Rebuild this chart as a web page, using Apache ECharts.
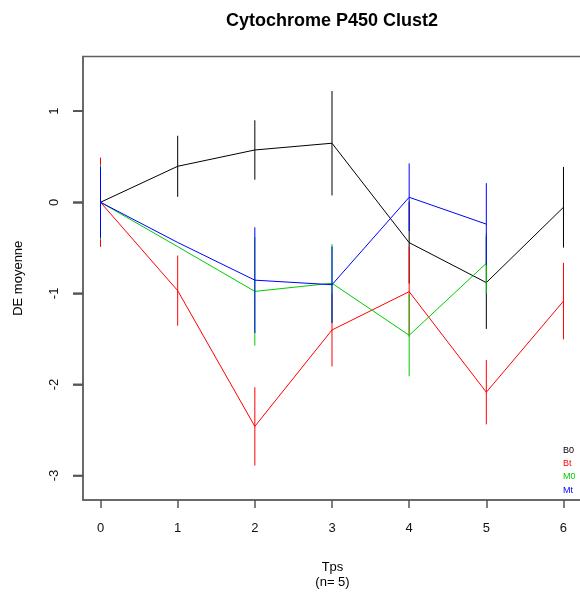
<!DOCTYPE html>
<html>
<head>
<meta charset="utf-8">
<title>Cytochrome P450 Clust2</title>
<script src="https://cdn.jsdelivr.net/npm/echarts@6/dist/echarts.min.js"></script>
<style>
  html, body { margin: 0; padding: 0; background: #fff; }
  #chart { width: 580px; height: 592px; }
</style>
</head>
<body>
<div id="chart"></div>
<script>
// Time points (x axis)
const tps = [0, 1, 2, 3, 4, 5, 6];
const xTicks = [0, 1, 2, 3, 4, 5, 6];
const yTicks = [-3, -2, -1, 0, 1];

// Mean DE per group and time point, with the half-length of each error bar
const seriesNames = ['B0', 'Bt', 'M0', 'Mt'];
const b0Mean = [0, 0.395, 0.574, 0.648, -0.443, -0.882, -0.055];
const b0Err  = [0.30, 0.335, 0.326, 0.573, 0.45, 0.508, 0.443];
const btMean = [0, -0.97, -2.46, -1.402, -0.981, -2.085, -1.085];
const btErr  = [0.49, 0.385, 0.43, 0.40, 0.494, 0.353, 0.42];
const m0Mean = [0, -0.487, -0.978, -0.889, -1.46, -0.67, null];
const m0Err  = [0.41, 0, 0.595, 0.43, 0.45, 0.33, null];
const mtMean = [0, -0.441, -0.855, -0.905, 0.055, -0.24, null];
const mtErr  = [0.39, 0, 0.58, 0.42, 0.372, 0.45, null];

const colors = ['#000000', '#ff0000', '#00cd00', '#0000ff'];
const means = [b0Mean, btMean, m0Mean, mtMean];
const errs = [b0Err, btErr, m0Err, mtErr];

const X_MIN = -0.227, X_MAX = 6.24;
const Y_MIN = -3.268, Y_MAX = 1.6;
const FONT = 'Liberation Sans, Arial, sans-serif';

const chart = echarts.init(document.getElementById('chart'), null, { renderer: 'canvas' });

const series = [];
seriesNames.forEach(function (name, i) {
  const lineData = [];
  const barData = [];
  tps.forEach(function (t, j) {
    if (means[i][j] === null) return;
    lineData.push([t, means[i][j]]);
    if (errs[i][j]) barData.push([t, means[i][j], errs[i][j]]);
  });
  series.push({
    name: name,
    type: 'line',
    data: lineData,
    showSymbol: false,
    symbol: 'none',
    lineStyle: { color: colors[i], width: 1 },
    itemStyle: { color: colors[i] },
    animation: false,
    silent: true,
    z: 10 + i * 2
  });
  series.push({
    name: name,
    type: 'custom',
    data: barData,
    animation: false,
    silent: true,
    z: 11 + i * 2,
    renderItem: function (params, api) {
      const x = api.value(0), y = api.value(1), e = api.value(2);
      const top = api.coord([x, y + e]);
      const bot = api.coord([x, y - e]);
      return {
        type: 'line',
        shape: { x1: top[0], y1: top[1], x2: bot[0], y2: bot[1] },
        style: { stroke: colors[i], lineWidth: 1 }
      };
    }
  });
});

// Outward tick marks on the left side of the frame, one per y tick value
series.push({
  type: 'custom',
  data: yTicks.map(function (v) { return [X_MIN, v]; }),
  animation: false,
  silent: true,
  clip: false,
  zlevel: 1,
  z: 5,
  renderItem: function (params, api) {
    const p = api.coord([api.value(0), api.value(1)]);
    return {
      type: 'line',
      shape: { x1: p[0] - 10, y1: p[1], x2: p[0], y2: p[1] },
      style: { stroke: '#555', lineWidth: 1.5 }
    };
  }
});

const option = {
  backgroundColor: '#ffffff',
  animation: false,
  graphic: [{
    type: 'text',
    x: 332,
    y: 21,
    style: {
      text: 'Cytochrome P450 Clust2',
      font: 'bold 18px ' + FONT,
      fill: '#000',
      align: 'center',
      verticalAlign: 'middle'
    }
  }],
  legend: {
    orient: 'vertical',
    left: 553,
    top: 441,
    padding: 5,
    itemWidth: 0,
    itemHeight: 0,
    itemGap: 4.2,
    icon: 'none',
    selectedMode: false,
    textStyle: { fontSize: 9, fontFamily: FONT },
    data: seriesNames.map(function (n, i) {
      return { name: n, icon: 'none', textStyle: { color: colors[i] } };
    })
  },
  grid: {
    left: 83,
    top: 56.5,
    width: 499,
    height: 443.5,
    show: true,
    borderColor: '#606060',
    borderWidth: 1.5,
    outerBoundsMode: 'none'
  },
  xAxis: {
    type: 'value',
    min: X_MIN,
    max: X_MAX,
    name: 'Tps\n(n= 5)',
    nameLocation: 'middle',
    nameGap: 60,
    nameTextStyle: { fontSize: 13, fontFamily: FONT, color: '#000', lineHeight: 15 },
    splitLine: { show: false },
    axisLine: { show: true, onZero: false, lineStyle: { color: '#606060', width: 1.5 } },
    axisTick: {
      show: true,
      length: 8,
      lineStyle: { color: '#555', width: 1.5 },
      customValues: xTicks
    },
    axisLabel: {
      fontSize: 13,
      fontFamily: FONT,
      color: '#111',
      margin: 22,
      customValues: xTicks
    }
  },
  yAxis: {
    type: 'value',
    min: Y_MIN,
    max: Y_MAX,
    name: 'DE moyenne',
    nameLocation: 'middle',
    nameGap: 58,
    nameRotate: 90,
    nameTextStyle: { fontSize: 13, fontFamily: FONT, color: '#000' },
    splitLine: { show: false },
    axisLine: { show: true, onZero: false, lineStyle: { color: '#606060', width: 1.5 } },
    axisTick: {
      show: true,
      length: 10,
      lineStyle: { color: '#555', width: 1.5 },
      customValues: yTicks
    },
    axisLabel: {
      fontSize: 13,
      fontFamily: FONT,
      color: '#111',
      rotate: 90,
      margin: 22,
      customValues: yTicks
    }
  },
  series: series
};

chart.setOption(option);

// Left-side tick marks as graphic lines placed through the y scale
const tickLines = yTicks.map(function (v) {
  const p = chart.convertToPixel({ gridIndex: 0 }, [X_MIN, v]);
  return {
    type: 'line',
    zlevel: 1,
    z: 100,
    silent: true,
    shape: { x1: p[0] - 10, y1: p[1], x2: p[0], y2: p[1] },
    style: { stroke: '#555', lineWidth: 1.5 }
  };
});
chart.setOption({ graphic: option.graphic.concat(tickLines) });
</script>
</body>
</html>
